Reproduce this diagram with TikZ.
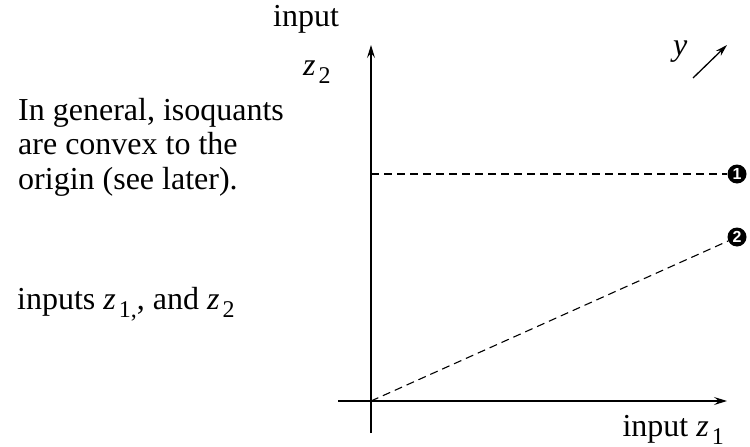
\documentclass[tikz,border=0pt]{standalone}
\usepackage{fontspec}
\setmainfont{Liberation Serif}
\newfontfamily\numfont{Liberation Sans}
\usetikzlibrary{arrows.meta}
\newcommand{\subsc}[1]{\kern3pt\raisebox{-8pt}{\fontsize{24}{24}\selectfont #1}}
\tikzset{
  axis/.style={line width=1.4pt, -{Stealth[length=13pt,width=8pt,inset=5pt]}},
  guide/.style={line width=1.1pt, dash pattern=on 8pt off 5pt},
  lab/.style={inner sep=0pt, font=\fontsize{32}{34.5}\selectfont},
  dot/.style={circle, fill=black, inner sep=0pt, minimum size=19pt,
    text=white, font=\numfont\bfseries\fontsize{16}{16}\selectfont}
}
\begin{document}
\begin{tikzpicture}[x=1pt,y=-1pt]
\useasboundingbox (0,0) rectangle (750,447);
% axes
\coordinate (O) at (371,401);
\coordinate (xl) at (338,401);
\coordinate (xr) at (727,401);
\coordinate (yb) at (371,433);
\coordinate (yt) at (371,45);
\draw[axis] (xl) -- (xr);
\draw[axis] (yb) -- (yt);
% markers
\node[dot] (c1) at (737,174) {1};
\node[dot] (c2) at (737,237) {2};
\coordinate (q1) at (371,174);
\draw[guide] (q1) -- (c1);
\draw[guide] (O) -- (c2);
% y arrow
\coordinate (ya) at (693,78);
\coordinate (yz) at (727,45);
\draw[line width=1.3pt, -{Stealth[length=12pt,width=7pt,inset=4pt]}] (ya) -- (yz);
\node[lab, anchor=base west] (ylab) at (673,55) {\itshape y};
% axis labels
\node[lab, anchor=base] (inlab) at (306,27) {input};
\node[lab, anchor=base west] (z2lab) at (303,75) {{\itshape z}\subsc{2}};
\node[lab, anchor=base east] (z1lab) at (724,436) {input {\itshape z}\subsc{1}};
% side texts
\node[lab, anchor=north west, align=left] (gen) at (18,98) {In general, isoquants\\are convex to the\\origin (see later).};
\node[lab, anchor=base west] (inp) at (17,309) {inputs {\itshape z}\subsc{1,}, and {\itshape z}\subsc{2}};
\end{tikzpicture}
\end{document}
